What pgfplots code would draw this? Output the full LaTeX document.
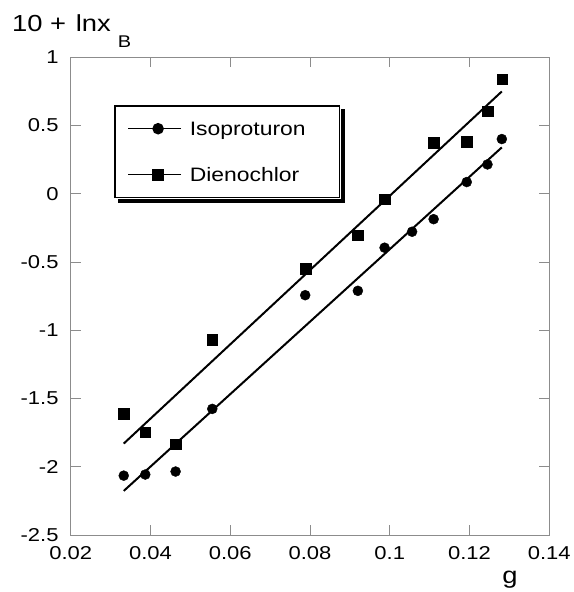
\documentclass[border=0pt]{standalone}
\usepackage{pgfplots}
\pgfplotsset{compat=1.18}
\usepackage{fontspec}
\setmainfont{Liberation Sans}[FakeStretch=1.18]
\definecolor{framegray}{RGB}{140,140,140}
\begin{document}
\begin{tikzpicture}
\useasboundingbox (-70.7bp,-57bp) rectangle (503.3bp,535bp);
\begin{axis}[
  scale only axis,
  width=478.6bp, height=477.7bp,
  xmin=0.02, xmax=0.14, ymin=-2.5, ymax=1,
  xtick={0.02,0.04,0.06,0.08,0.1,0.12,0.14},
  xticklabels={0.02,0.04,0.06,0.08,0.1,0.12,0.14},
  ytick={-2.5,-2,-1.5,-1,-0.5,0,0.5,1},
  yticklabels={-2.5,-2,-1.5,-1,-0.5,0,0.5,1},
  tick align=inside,
  major tick length=10bp,
  axis line style={framegray, line width=1bp},
  tick style={framegray, line width=1bp},
  ticklabel style={font=\fontsize{18.7}{22}\selectfont, inner sep=0pt},
  yticklabel style={anchor=east, xshift=-12bp},
  xticklabel style={anchor=north, yshift=-11.5bp},
  xlabel={g},
  xlabel style={at={(axis description cs:0.918,-0.1005)}, anchor=base, inner sep=0pt, font=\fontsize{23.3}{28}\selectfont},
  ylabel={10 + \hspace{2bp}lnx\hspace{7bp}\raisebox{-16.3bp}{\fontsize{17}{17}\selectfont B}},
  ylabel style={rotate=-90, at={(axis description cs:-0.1227,1.0536)}, anchor=base west, inner sep=0pt, font=\fontsize{23.3}{28}\selectfont},
  clip=false,
  legend cell align=left,
  legend style={
    name=leg,
    at={(axis description cs:0.0905,0.9001)}, anchor=north west,
    draw=black, line width=1.5bp, fill=white,
    inner xsep=12.7bp, inner ysep=0bp, row sep=0bp,
    font=\fontsize{19.5}{23}\selectfont,
    nodes={inner sep=0pt, text width=137bp, align=left, text height=29.93bp, text depth=15.93bp},
    /tikz/every odd column/.append style={column sep=8bp},
  },
  legend image code/.code={
    \draw[line width=1.3bp, solid] (0bp,0bp) -- (53bp,0bp);
    \draw plot coordinates {(30bp,0bp)};
  },
]
\addplot[black, line width=2bp, forget plot] coordinates {(0.0333,-2.177) (0.1281,0.340)};
\addplot[black, line width=2bp, forget plot] coordinates {(0.0333,-1.830) (0.1281,0.750)};
\addplot[only marks, mark=*, mark size=5bp, black, fill=black] coordinates {
(0.0333,-2.065) (0.0387,-2.057) (0.0463,-2.035) (0.0555,-1.576)
(0.0788,-0.743) (0.0920,-0.711) (0.0987,-0.395) (0.1056,-0.278)
(0.1110,-0.186) (0.1193,0.086) (0.1245,0.215) (0.1281,0.401)};
\addlegendentry{Isoproturon}
\addplot[only marks, mark=square*, mark size=5.3bp, black, fill=black] coordinates {
(0.0333,-1.613) (0.0387,-1.747) (0.0463,-1.835) (0.0555,-1.067)
(0.0789,-0.547) (0.0920,-0.303) (0.0987,-0.039) (0.1110,0.374)
(0.1193,0.381) (0.1245,0.606) (0.1282,0.839)};
\addlegendentry{Dienochlor}
\end{axis}
\fill[black] ([shift={(0.5bp,-4bp)}]leg.north east) rectangle ([shift={(5bp,-5bp)}]leg.south east);
\fill[black] ([shift={(4bp,-0.5bp)}]leg.south west) rectangle ([shift={(5bp,-5bp)}]leg.south east);
\end{tikzpicture}
\end{document}
